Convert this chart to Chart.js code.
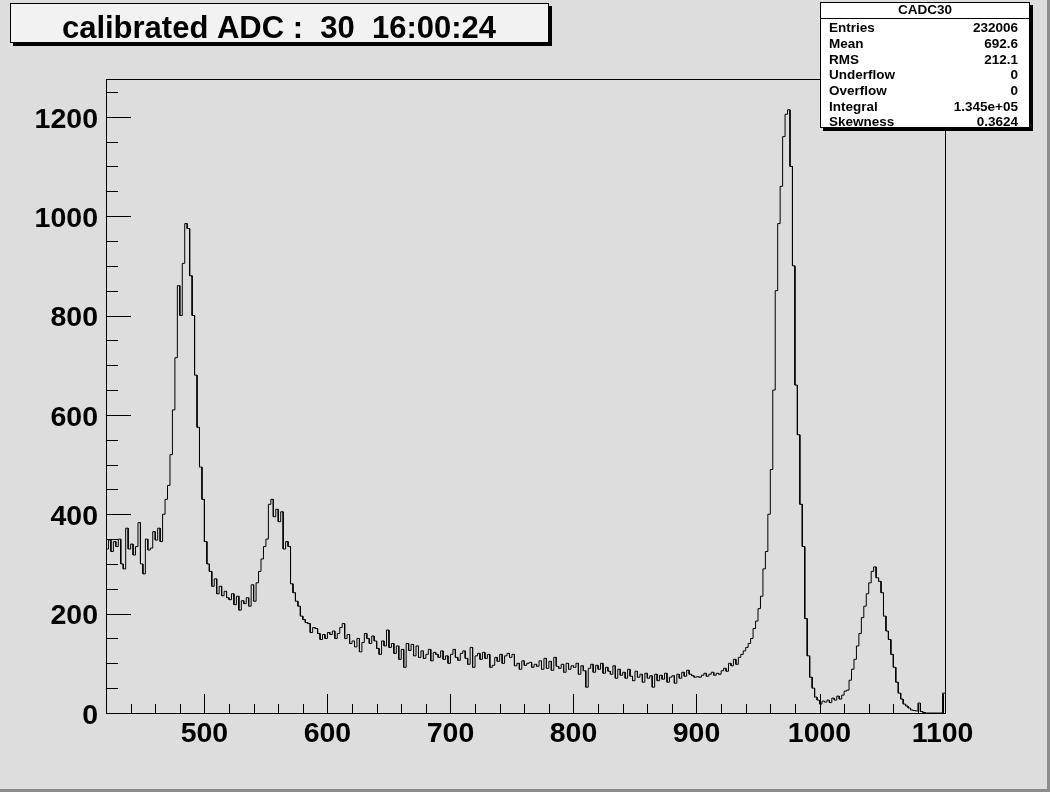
<!DOCTYPE html>
<html>
<head>
<meta charset="utf-8">
<script src="https://cdn.jsdelivr.net/npm/chart.js@4.4.1/dist/chart.umd.min.js"></script>
<style>
  html, body { margin: 0; padding: 0; background: #dddddd; }
  canvas { display: block; }
</style>
</head>
<body>
<canvas id="c" width="1050" height="792"></canvas>
<script>
// histogram binning
const lowEdge = 420
const binWidth = 2

// bin contents, 2 units per bin
const counts420 = [330, 348, 325, 345, 335, 350, 300, 290, 372, 330, 340, 318, 335, 383, 300, 280, 350, 328, 332, 365, 348, 372, 345, 400, 430]
const counts470 = [458, 520, 610, 715, 860, 800, 905, 985, 975, 880, 800, 680, 575, 495, 430, 345, 300, 285, 255, 270, 240, 255, 236, 245, 232]
const counts520 = [228, 240, 218, 235, 207, 226, 220, 232, 215, 258, 225, 262, 285, 310, 335, 350, 420, 430, 395, 410,
  385, 405, 330, 345, 335, 260, 242, 225, 215, 195, 188, 182, 180, 162, 172, 170, 160, 148, 158, 150]
const counts600 = [162, 158, 165, 150, 160, 172, 180, 150, 158, 140, 145, 133, 150, 123, 142, 160, 150, 140, 155, 145,
  130, 118, 145, 135, 167, 132, 140, 120, 135, 108, 128, 92, 140, 126, 138, 115, 135, 112, 125, 110,
  118, 128, 105, 122, 118, 112, 125, 108, 115, 100]
const counts700 = [118, 128, 112, 106, 120, 125, 110, 98, 132, 92, 115, 120, 108, 122, 110, 118, 92, 96, 112, 104,
  118, 100, 115, 120, 112, 118, 95, 100, 88, 105, 96, 100, 102, 92, 98, 94, 105, 88, 110, 90,
  104, 86, 112, 94, 90, 98, 82, 100, 88, 95]
const counts800 = [92, 100, 78, 95, 85, 52, 90, 98, 82, 96, 88, 100, 80, 92, 84, 78, 95, 70, 88, 76,
  82, 70, 88, 74, 65, 84, 72, 78, 62, 80, 70, 75, 52, 78, 65, 76, 68, 80, 62, 72,
  75, 60, 78, 70, 82, 74, 86, 78, 75, 72]
const counts900 = [73, 72, 76, 80, 74, 78, 82, 76, 80, 78, 85, 90, 84, 100, 95, 108, 98, 112, 118, 125,
  132, 140, 150, 170, 185, 210, 235, 290, 325, 400, 490]
const counts962 = [650, 850, 985, 1060, 1160, 1205, 1214, 1100, 900, 660, 560, 420, 335, 190, 115, 72, 50, 32, 26, 18,
  24, 22, 26, 21, 30, 26, 34, 28, 36, 44, 46, 66, 88, 108, 135, 160, 192, 215, 240, 262,
  285, 294, 272, 265, 242, 195, 165, 148, 118, 92, 62, 40, 28, 18, 14, 10, 6, 5, 4, 20,
  3, 1, 0, 0, 0, 0, 0, 0, 0, 40]

const xTickValues = [500, 600, 700, 800, 900, 1000, 1100]
const yTickValues = [0, 200, 400, 600, 800, 1000, 1200]

const titleText = 'calibrated ADC :  30  16:00:24'
const histName = 'CADC30'
const statNames = ['Entries', 'Mean', 'RMS', 'Underflow', 'Overflow', 'Integral', 'Skewness']
const statValues = ['232006', '692.6', '212.1', '0', '0', '1.345e+05', '0.3624']

const counts = [].concat(counts420, counts470, counts520, counts600, counts700, counts800, counts900, counts962)

// every bin becomes a flat top from its low edge to its high edge
const points = []
counts.forEach(function (v, i) {
  const e = lowEdge + i * binWidth
  points.push({ x: e, y: v }, { x: e + binWidth, y: v })
})

const FONT = '"Liberation Sans", Arial, Helvetica, sans-serif'

const rootPad = {
  id: 'rootPad',
  beforeDraw: function (chart) {
    const ctx = chart.ctx
    ctx.save()
    ctx.fillStyle = '#dddddd'
    ctx.fillRect(0, 0, chart.width, chart.height)
    // bevel of the canvas
    ctx.fillStyle = '#8c8c8c'
    ctx.fillRect(0, chart.height - 3, chart.width, 3)
    ctx.fillRect(chart.width - 3, 0, 3, chart.height)
    ctx.restore()
  },
  afterDatasetsDraw: function (chart) {
    const ctx = chart.ctx
    const a = chart.chartArea
    const xs = chart.scales.x
    const ys = chart.scales.y
    ctx.save()
    ctx.strokeStyle = '#000'
    ctx.lineWidth = 1
    ctx.beginPath()
    for (let v = 440; v <= 1100; v += 20) {
      const p = Math.round(xs.getPixelForValue(v)) + 0.5
      const len = v % 100 === 0 ? 19 : 9
      ctx.moveTo(p, a.bottom)
      ctx.lineTo(p, a.bottom - len)
    }
    for (let v = 50; v <= 1250; v += 50) {
      const p = Math.round(ys.getPixelForValue(v)) + 0.5
      const len = v % 200 === 0 ? 25 : 12
      ctx.moveTo(a.left, p)
      ctx.lineTo(a.left + len, p)
    }
    ctx.stroke()
    ctx.strokeRect(Math.round(a.left) + 0.5, Math.round(a.top) + 0.5,
      Math.round(a.right - a.left), Math.round(a.bottom - a.top))
    ctx.restore()
  },
  afterDraw: function (chart) {
    const ctx = chart.ctx
    ctx.save()

    // title box
    ctx.fillStyle = '#000'
    ctx.fillRect(13, 6, 539, 40)
    ctx.fillStyle = '#f2f2f2'
    ctx.fillRect(10, 3, 539, 40)
    ctx.strokeStyle = '#000'
    ctx.lineWidth = 1
    ctx.strokeRect(10.5, 3.5, 538, 39)
    ctx.fillStyle = '#000'
    ctx.font = 'bold 31px ' + FONT
    ctx.textAlign = 'center'
    ctx.textBaseline = 'alphabetic'
    ctx.fillText(titleText, 279, 38)

    // statistics box
    const bx = 820, by = 2, bw = 210, bh = 126
    ctx.fillStyle = '#000'
    ctx.fillRect(bx + 3, by + 3, bw, bh)
    ctx.fillStyle = '#ffffff'
    ctx.fillRect(bx, by, bw, bh)
    ctx.strokeRect(bx + 0.5, by + 0.5, bw - 1, bh - 1)
    ctx.beginPath()
    ctx.moveTo(bx, 18.5)
    ctx.lineTo(bx + bw, 18.5)
    ctx.stroke()
    ctx.fillStyle = '#000'
    ctx.font = 'bold 13.5px ' + FONT
    ctx.textBaseline = 'middle'
    ctx.textAlign = 'center'
    ctx.fillText(histName, bx + bw / 2, 10.5)
    statNames.forEach(function (name, i) {
      const y = 28.5 + i * 15.7
      ctx.textAlign = 'left'
      ctx.fillText(name, 829, y)
      ctx.textAlign = 'right'
      ctx.fillText(statValues[i], 1018, y)
    })
    ctx.restore()
  }
}

const tickFont = { family: FONT, size: 28.5, weight: 'bold' }

new Chart(document.getElementById('c'), {
  type: 'line',
  data: {
    datasets: [{
      label: histName,
      data: points,
      borderColor: '#000',
      borderWidth: 1,
      pointRadius: 0,
      fill: false,
      tension: 0
    }]
  },
  options: {
    responsive: false,
    animation: false,
    devicePixelRatio: 1,
    layout: { padding: { top: 79, right: 105, left: 0, bottom: 0 } },
    plugins: { legend: { display: false }, tooltip: { enabled: false } },
    scales: {
      x: {
        type: 'linear',
        min: 420,
        max: 1102,
        grid: { display: false, drawTicks: false },
        border: { display: false },
        afterBuildTicks: function (s) { s.ticks = xTickValues.map(function (v) { return { value: v } }) },
        afterFit: function (s) { s.height = 79 },
        ticks: {
          font: tickFont, color: '#000', padding: 4, maxRotation: 0, autoSkip: false,
          callback: function (v) { return String(v) }
        }
      },
      y: {
        type: 'linear',
        min: 0,
        max: 1276,
        grid: { display: false, drawTicks: false },
        border: { display: false },
        afterBuildTicks: function (s) { s.ticks = yTickValues.map(function (v) { return { value: v } }) },
        afterFit: function (s) { s.width = 106 },
        ticks: {
          font: tickFont, color: '#000', padding: 8, autoSkip: false, labelOffset: 3,
          callback: function (v) { return String(v) }
        }
      }
    }
  },
  plugins: [rootPad]
})
</script>
</body>
</html>
